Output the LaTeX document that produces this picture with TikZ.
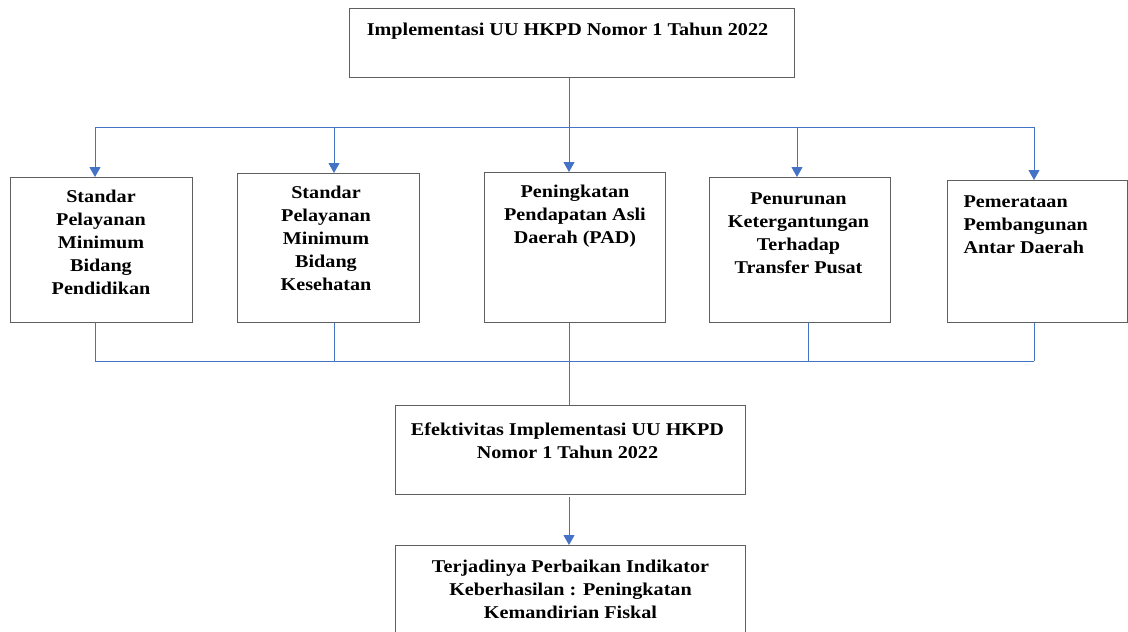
\documentclass[tikz,border=0pt]{standalone}
\usepackage{fontspec}
\setmainfont{Liberation Serif}[FakeStretch=1.12]
\usetikzlibrary{arrows.meta}
\definecolor{linkblue}{RGB}{68,114,196}
\definecolor{boxgray}{RGB}{95,95,95}
\tikzset{
  box/.style={draw=boxgray, line width=1.3pt, fill=white, inner sep=0pt, anchor=north west},
  lbl/.style={inner sep=0pt, font=\bfseries\fontsize{18}{23}\selectfont, align=center, anchor=north},
  conn/.style={draw=linkblue, line width=1pt},
  arr/.style={conn, -{Triangle[width=11pt,length=10pt]}}
}
\begin{document}
\begin{tikzpicture}[x=1pt,y=-1pt]
\useasboundingbox (0,0) rectangle (1128,632);
\clip (0,0) rectangle (1128,632);
% boxes
\node[box, minimum width=445pt, minimum height=69pt] (top) at (349,8) {};
\node[box, minimum width=182pt, minimum height=145pt] (b1) at (10,177) {};
\node[box, minimum width=182pt, minimum height=149pt] (b2) at (237,173) {};
\node[box, minimum width=181pt, minimum height=150pt] (b3) at (484,172) {};
\node[box, minimum width=181pt, minimum height=145pt] (b4) at (709,177) {};
\node[box, minimum width=180pt, minimum height=142pt] (b5) at (947,180) {};
\node[box, minimum width=350pt, minimum height=89pt] (e) at (395,405) {};
\node[box, minimum width=350pt, minimum height=120pt] (f) at (395,545) {};
% texts
\node[lbl] (ttop) at (567.5,22.9) {Implementasi UU HKPD Nomor 1 Tahun 2022};
\node[lbl] (t1) at (101,190.3) {Standar\\Pelayanan\\Minimum\\Bidang\\Pendidikan};
\node[lbl] (t2) at (326,186.3) {Standar\\Pelayanan\\Minimum\\Bidang\\Kesehatan};
\node[lbl] (t3) at (575,185.3) {Peningkatan\\Pendapatan Asli\\Daerah (PAD)};
\node[lbl] (t4) at (798.5,192.3) {Penurunan\\Ketergantungan\\Terhadap\\Transfer Pusat};
\node[lbl, align=left, anchor=north west] (t5) at (963.4,195.6) {Pemerataan\\Pembangunan\\Antar Daerah};
\node[lbl] (te) at (567.5,422.9) {Efektivitas Implementasi UU HKPD\\Nomor 1 Tahun 2022};
\node[lbl] (tf) at (570.5,560.3) {Terjadinya Perbaikan Indikator\\Keberhasilan : Peningkatan\\Kemandirian Fiskal};
% top bus
\coordinate (ta1) at (95,127);
\coordinate (ta2) at (334,127);
\coordinate (ta3) at (569,127);
\coordinate (ta4) at (797,127);
\coordinate (ta5) at (1034,127);
\draw[conn] (ta3 |- top.south) -- (ta3);
\draw[conn] (ta1) -- (ta5);
\draw[arr] (ta1) -- (ta1 |- b1.north);
\draw[arr] (ta2) -- (ta2 |- b2.north);
\draw[arr] (ta3) -- (ta3 |- b3.north);
\draw[arr] (ta4) -- (ta4 |- b4.north);
\draw[arr] (ta5) -- (ta5 |- b5.north);
% bottom bus
\coordinate (ba1) at (95,361);
\coordinate (ba2) at (334,361);
\coordinate (ba3) at (569,361);
\coordinate (ba4) at (808,361);
\coordinate (ba5) at (1034,361);
\draw[conn] (ba1) -- (ba5);
\draw[conn] (ba1 |- b1.south) -- (ba1);
\draw[conn] (ba2 |- b2.south) -- (ba2);
\draw[conn] (ba4 |- b4.south) -- (ba4);
\draw[conn] (ba5 |- b5.south) -- (ba5);
\draw[conn] (ba3 |- b3.south) -- (ba3 |- e.north);
% to last box
\coordinate (es) at (569,497);
\draw[arr] (es) -- (es |- f.north);
\end{tikzpicture}
\end{document}
